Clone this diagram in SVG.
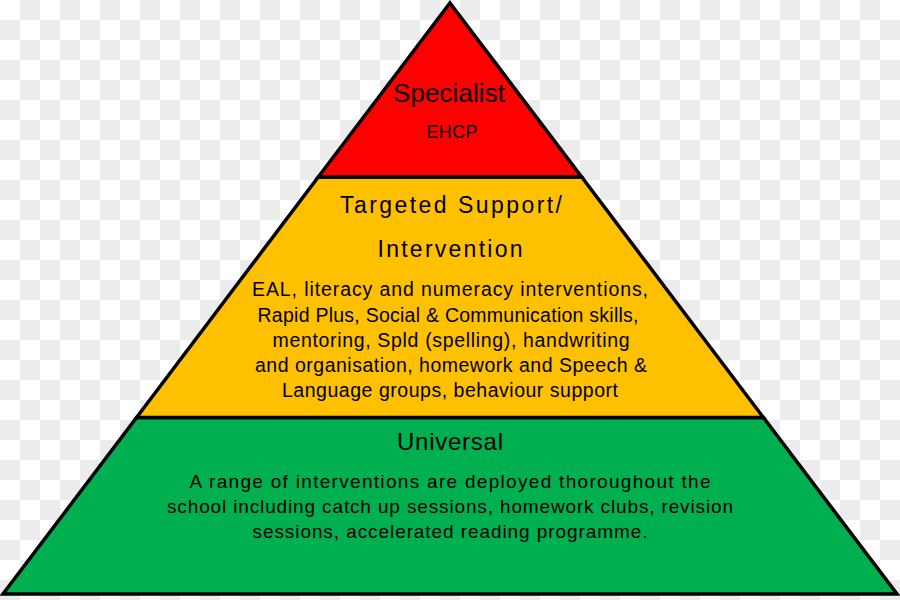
<svg xmlns="http://www.w3.org/2000/svg" width="900" height="600" viewBox="0 0 900 600">
  <defs>
    <pattern id="checker" x="0" y="0" width="40" height="40" patternUnits="userSpaceOnUse">
      <rect width="40" height="40" fill="#ffffff"/>
      <rect x="20" y="0" width="20" height="20" fill="#ececec"/>
      <rect x="0" y="20" width="20" height="20" fill="#ececec"/>
    </pattern>
  </defs>
  <style>
    .tier { stroke: #000000; stroke-width: 3.5; stroke-linejoin: miter; }
    .h { font-family: "Liberation Sans", Arial, sans-serif; fill: #000000; text-anchor: middle; }
    .b { font-family: "Liberation Sans", Arial, sans-serif; fill: #000000; text-anchor: middle; font-size: 19.5px; }
    .g { font-family: "Liberation Sans", Arial, sans-serif; fill: #000000; text-anchor: middle; font-size: 19px; }
  </style>
  <rect width="900" height="600" fill="url(#checker)"/>

  <g id="universal">
    <polygon class="tier" points="136.6,417.5 763.4,417.5 897,594 3,594" fill="#00b050"/>
    <text class="h" x="450" y="450" font-size="24" textLength="106">Universal</text>
    <text class="g" x="450" y="488" textLength="521">A range of interventions are deployed thoroughout the</text>
    <text class="g" x="450" y="513" textLength="566">school including catch up sessions, homework clubs, revision</text>
    <text class="g" x="450" y="538" textLength="395">sessions, accelerated reading programme.</text>
  </g>

  <g id="targeted">
    <polygon class="tier" points="318.3,177 581.7,177 763.4,417.5 136.6,417.5" fill="#ffc000"/>
    <text class="h" x="451" y="213" font-size="23" textLength="222">Targeted Support/</text>
    <text class="h" x="450" y="257" font-size="23" textLength="145">Intervention</text>
    <text class="b" x="450" y="296" textLength="396">EAL, literacy and numeracy interventions,</text>
    <text class="b" x="448" y="322" textLength="381">Rapid Plus, Social &amp; Communication skills,</text>
    <text class="b" x="451" y="347" textLength="357">mentoring, Spld (spelling), handwriting</text>
    <text class="b" x="451" y="372" textLength="392">and organisation, homework and Speech &amp;</text>
    <text class="b" x="450" y="397" textLength="336">Language groups, behaviour support</text>
  </g>

  <g id="specialist">
    <polygon class="tier" points="450,3 581.7,177 318.3,177" fill="#ff0000"/>
    <text class="h" x="449" y="102" font-size="26" textLength="112">Specialist</text>
    <text class="h" x="452" y="138" font-size="18" textLength="51">EHCP</text>
  </g>

  <g id="connectors"></g>
</svg>
